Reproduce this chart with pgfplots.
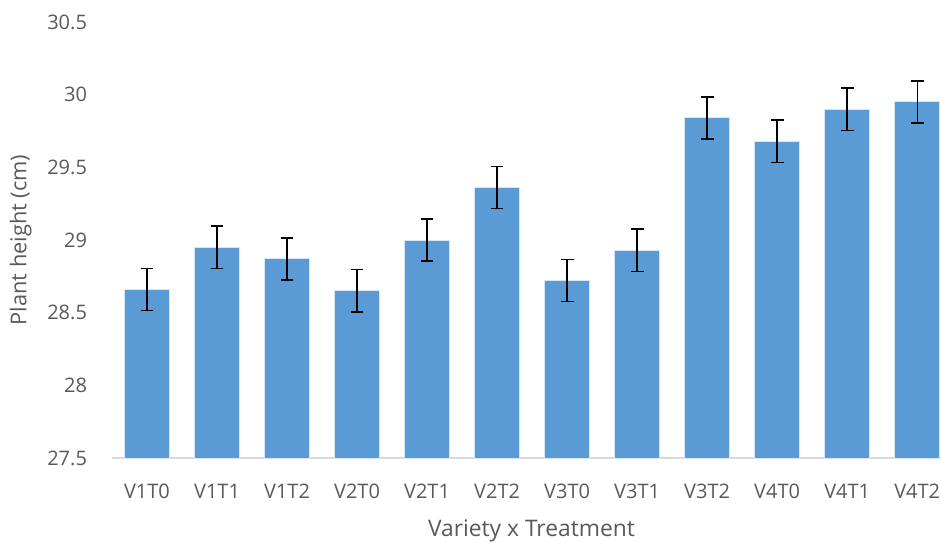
\documentclass[border=0pt]{standalone}
\usepackage{pgfplots}
\pgfplotsset{compat=1.18}
\usepackage{fontspec}
\setmainfont{Open Sans}
\definecolor{barblue}{HTML}{5B9BD5}
\definecolor{txtgray}{HTML}{595959}
\definecolor{axgray}{HTML}{D9D9D9}
\begin{document}
\begin{tikzpicture}[x=1pt,y=1pt]
\useasboundingbox (0,0) rectangle (470.5,271);
\begin{axis}[
  at={(56pt,42pt)}, anchor=south west,
  scale only axis, width=414.5pt, height=218pt,
  xmin=-0.5, xmax=11.34, ymin=27.5, ymax=30.5,
  xtick={0,...,11},
  xticklabels={V1T0,V1T1,V1T2,V2T0,V2T1,V2T2,V3T0,V3T1,V3T2,V4T0,V4T1,V4T2},
  ytick={27.5,28,28.5,29,29.5,30,30.5},
  yticklabels={27.5,28,28.5,29,29.5,30,30.5},
  axis x line*=bottom,
  axis y line*=left,
  y axis line style={draw=none},
  x axis line style={draw=axgray, line width=1pt, -},
  major tick length=0pt,
  tick style={draw=none},
  ticklabel style={font=\fontsize{10}{11}\selectfont, text=txtgray},
  xticklabel style={yshift=-8pt, text height=1.6ex, text depth=0.2ex},
  yticklabel style={xshift=-9pt},
  xlabel={Variety x Treatment},
  ylabel={Plant height (cm)},
  label style={text=txtgray},
  xlabel style={font=\fontsize{11.4}{13}\selectfont, at={(axis description cs:0.506,-0.167)}, anchor=center},
  ylabel style={font=\fontsize{10.9}{13}\selectfont, at={(axis description cs:-0.11,0.5)}, anchor=center},
  clip=false,
]
\addplot[ybar, bar width=0.643, fill=barblue, draw=white!75!barblue, line width=0.5pt,
  error bars/.cd, y dir=both, y explicit,
  error bar style={black, line width=0.7pt},
  error mark options={black, rotate=90, mark size=3.2pt, line width=0.7pt}]
 coordinates {
 (0,28.66) +- (0,0.145)
 (1,28.95) +- (0,0.145)
 (2,28.87) +- (0,0.145)
 (3,28.65) +- (0,0.145)
 (4,29.00) +- (0,0.145)
 (5,29.36) +- (0,0.145)
 (6,28.72) +- (0,0.145)
 (7,28.93) +- (0,0.145)
 (8,29.84) +- (0,0.145)
 (9,29.68) +- (0,0.145)
 (10,29.90) +- (0,0.145)
 (11,29.95) +- (0,0.145)
 };
\end{axis}
\end{tikzpicture}
\end{document}
